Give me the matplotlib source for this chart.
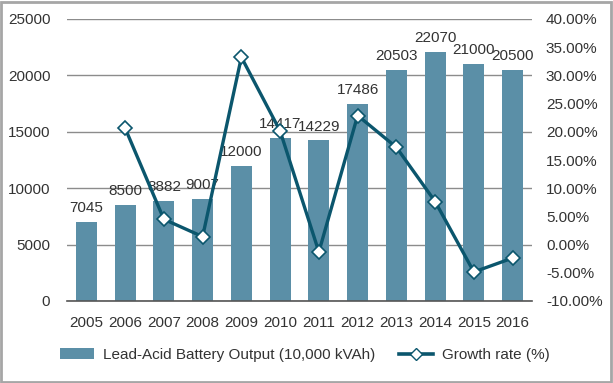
import matplotlib
matplotlib.use("Agg")
import matplotlib.pyplot as plt
import numpy as np
from matplotlib.patches import Rectangle
from matplotlib.lines import Line2D
from matplotlib.patches import Patch

years = ["2005", "2006", "2007", "2008", "2009", "2010", "2011", "2012",
         "2013", "2014", "2015", "2016"]
output = [7045, 8500, 8882, 9007, 12000, 14417, 14229, 17486, 20503, 22070, 21000, 20500]
growth = [np.nan, 20.65, 4.49, 1.41, 33.23, 20.14, -1.30, 22.89, 17.25, 7.64, -4.85, -2.38]

bar_color = "#5b8fa7"
line_color = "#0b566d"
text_color = "#333333"
grid_color = "#8c8c8c"

plt.rcParams['font.family'] = ['Liberation Sans', 'DejaVu Sans']

fig = plt.figure(figsize=(6.13, 3.83), dpi=100)
ax = fig.add_axes([67/613, 1-301/383, (532-67)/613, (301-19)/383])
x = np.arange(len(years))
ax.bar(x, output, width=0.54, color=bar_color, zorder=2)
ax.set_xlim(-0.5, len(years) - 0.5)
ax.set_ylim(0, 25000)
ax.set_yticks(np.arange(0, 25001, 5000))
ax.set_yticklabels([str(v) for v in range(0, 25001, 5000)])
ax.set_xticks(x)
ax.set_xticklabels(years)
ax.tick_params(axis='both', length=0, labelsize=11, colors=text_color)
ax.tick_params(axis='y', pad=12)
ax.tick_params(axis='x', pad=11)
ax.yaxis.grid(True, color=grid_color, linewidth=1.0, zorder=0)
ax.set_axisbelow(True)
for s in ['top', 'right', 'left']:
    ax.spines[s].set_visible(False)
ax.spines['bottom'].set_color('#555555')
ax.spines['bottom'].set_linewidth(1.2)

for xi, v in zip(x, output):
    ax.annotate(str(v), (xi, v), xytext=(0, 5), textcoords='offset points',
                ha='center', va='bottom', fontsize=11, color=text_color)

ax2 = ax.twinx()
ax2.plot(x, growth, color=line_color, linewidth=2.4, marker='D', markersize=7.5,
         markerfacecolor='white', markeredgecolor=line_color, markeredgewidth=1.2, zorder=3)
ax2.set_ylim(-10, 40)
ax2.set_yticks(np.arange(-10, 40.1, 5))
ax2.set_yticklabels([f"{v:.2f}%" for v in np.arange(-10, 40.1, 5)])
ax2.tick_params(axis='y', length=0, labelsize=11, colors=text_color, pad=10)
for s in ax2.spines.values():
    s.set_visible(False)

handles = [Patch(facecolor=bar_color, edgecolor='none'),
           Line2D([0], [0], color=line_color, linewidth=2.6, marker='D', markersize=6.5,
                  markerfacecolor='white', markeredgecolor=line_color)]
labels = ["Lead-Acid Battery Output (10,000 kVAh)", "Growth rate (%)"]
fig.legend(handles, labels, loc='center', bbox_to_anchor=(305/613, 1-355/383), ncol=2,
           frameon=False, fontsize=11, handlelength=2.2, handleheight=0.7,
           columnspacing=1.6, handletextpad=0.6, labelcolor=text_color)

fig.patches.append(Rectangle((0.002, 0.003), 0.995, 0.993, transform=fig.transFigure,
                             fill=False, edgecolor='#a6a6a6', linewidth=2))

fig.savefig("out.png", dpi=100)
